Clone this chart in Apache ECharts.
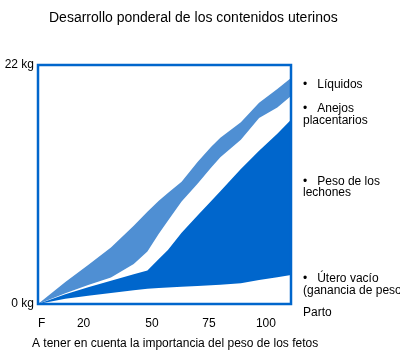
<!DOCTYPE html>
<html><head><meta charset="utf-8">
<script src="https://cdn.jsdelivr.net/npm/echarts@6/dist/echarts.min.js"></script>
<style>html,body{margin:0;padding:0;background:#fff}#c{width:400px;height:357px}</style>
</head><body><div id="c"></div>
<script>
const chartTitle = 'Desarrollo ponderal de los contenidos uterinos';
const noteText = 'A tener en cuenta la importancia del peso de los fetos';
// days of gestation (F = fecundación = 0)
const days      = [0, 12, 22, 32, 42, 48, 53, 57, 63, 70, 76, 80, 89, 97, 105, 111];
// kg of each component, listed from bottom layer to top layer
const uteroVacio = [0, 0.49, 0.77, 1.01, 1.26, 1.41, 1.47, 1.51, 1.59, 1.66, 1.73, 1.77, 1.90, 2.20, 2.47, 2.68];
const lechones   = [0, 0.40, 0.78, 1.13, 1.48, 1.68, 2.67, 3.47, 4.98, 6.48, 7.75, 8.62, 10.52, 11.90, 13.21, 14.29];
const anejos     = [0, 0.11, 0.20, 0.29, 0.95, 1.75, 2.32, 2.68, 2.87, 2.93, 3.08, 3.12, 2.71, 3.03, 2.40, 2.17];
const liquidos   = [0, 1.03, 1.85, 2.78, 3.51, 3.65, 3.04, 2.55, 1.82, 2.01, 1.92, 1.80, 1.61, 1.39, 1.72, 1.66];
const xTickValues = [0, 20, 50, 75, 100];
const xTickLabels = ['F', '20', '50', '75', '100'];
const yTickValues = [0, 22];
const yUnit = 'kg';
const legendLines = ['•   Líquidos', '•   Anejos', 'placentarios', '•   Peso de los', 'lechones', '•   Útero vacío', '(ganancia de peso)', 'Parto'];

const FONT = '"Liberation Sans", Arial, sans-serif';
const DARK = '#0066CC', LIGHT = '#4F8FD3';
const legendY = [85, 109, 121, 181.5, 193, 279, 290.5, 313];

// cumulative tops of the layers (same as a stacked chart)
const layers = [
  { name: 'Útero vacío', vals: uteroVacio, color: '#ffffff' },
  { name: 'Peso de los lechones', vals: lechones, color: DARK },
  { name: 'Anejos placentarios', vals: anejos, color: '#ffffff' },
  { name: 'Líquidos', vals: liquidos, color: LIGHT }
];
let run = days.map(() => 0);
layers.forEach(l => { run = run.map((s, i) => s + l.vals[i]); l.cum = run.slice(); });

// draw top layer first, lower layers painted over it
const series = layers.slice().reverse().map(l => ({
  name: l.name, type: 'line', data: days.map((d, i) => [d, l.cum[i]]), symbol: 'none',
  lineStyle: { width: 0, opacity: 0 }, areaStyle: { color: l.color, opacity: 1, origin: 'start' },
  silent: true, animation: false
}));

const chart = echarts.init(document.getElementById('c'), null, { renderer: 'canvas' });
chart.setOption({
  animation: false,
  backgroundColor: '#fff',
  textStyle: { fontFamily: FONT },
  title: [
    { text: chartTitle, left: 49, top: 11, padding: 0, textStyle: { fontSize: 14, fontWeight: 'normal', color: '#000', fontFamily: FONT } },
    { text: noteText, left: 32, top: 338, padding: 0, textStyle: { fontSize: 12, fontWeight: 'normal', color: '#000', fontFamily: FONT } }
  ],
  grid: { left: 38, right: 109, top: 65, bottom: 53, show: true, borderColor: DARK, borderWidth: 2.5, z: 10, backgroundColor: 'transparent' },
  xAxis: {
    type: 'value', min: 0, max: 111,
    axisLine: { show: false }, axisTick: { show: false }, splitLine: { show: false },
    axisLabel: { customValues: xTickValues, margin: 14, fontSize: 12, color: '#000', fontFamily: FONT, alignMinLabel: 'left',
      formatter: v => xTickLabels[xTickValues.indexOf(v)] }
  },
  yAxis: {
    type: 'value', min: 0, max: 22,
    axisLine: { show: false }, axisTick: { show: false }, splitLine: { show: false },
    axisLabel: { customValues: yTickValues, margin: 4, fontSize: 12, color: '#000', fontFamily: FONT,
      formatter: v => v + ' ' + yUnit }
  },
  series: series,
  graphic: legendLines.map((t, i) => ({
    type: 'text', x: 303, y: legendY[i], silent: true,
    style: { text: t, fill: '#000', font: '12px ' + FONT, verticalAlign: 'middle' }
  }))
});
</script></body></html>
